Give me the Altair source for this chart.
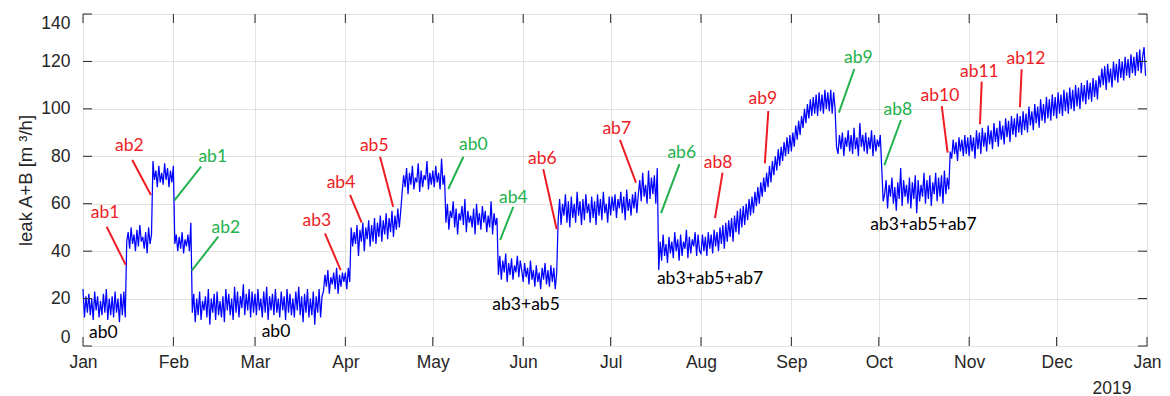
import altair as alt
import pandas as pd

# ---- leak A+B series, two readings per day (00:00 and 12:00), month by month ----
JAN = [24,12,21,14,22,13,20,11,23,15,21,12,19,13,22,14,24,11,20,13,21,12,23,14,20,10,22,13,23,12,
       44,48,41,50,43,47,40,49,42,51,44,46,41,48,39,50,43,47,
       78,70,74,67,76,69,73,68,77,70,75,67,74,69]
FEB = [76,43,47,40,46,41,48,39,45,42,47,40,52,
       14,22,10,20,13,23,11,19,15,21,12,24,9,20,14,22,11,23,13,19,12,21,10,24,15,22,13,20,11,25,14,23,
       12,21,16,26,13,22,15,24,12,23,14]
MAR = [22,13,24,15,20,12,23,14,25,11,21,15,22,13,24,14,20,12,23,15,21,11,24,14,22,13,20,12,23,15,25,13,
       21,10,22,14,24,12,20,13,23,9,21,14,24,12,21,
       23,30,25,32,22,29,26,31,24,33,22,30,25,31,27]
APR = [31,24,33,27,
       50,42,48,43,51,38,49,44,52,40,50,45,53,42,51,44,54,43,52,46,55,44,53,47,56,45,54,48,57,46,55,49,58,50,57,
       65,72,67,75,64,73,68,76,66,71,69,77,65,74,67,72,70,78,66,73,68]
MAY = [74,67,76,69,73,66,79,68,72,
       52,60,49,57,54,61,50,58,47,56,53,59,51,62,48,57,52,55,50,58,47,60,51,56,49,59,52,57,48,55,50,61,47,56,51,54,
       30,38,28,36,31,39,27,35,30,37,28,34,31,38,29,36,32]
JUN = [27,35,29,33,26,36,28,32,25,34,27,31,24,33,28,35,26,32,25,34,27,33,24,31,
       53,62,51,60,55,64,52,61,50,63,54,60,52,65,55,61,51,62,53,64,56,60,52,63,54,61,51,64,55,62,53,65,56,60,52,63]
JUL = [55,63,57,64,54,62,58,65,56,63,53,66,57,62,55,64,58,65,56,
       64,70,61,73,63,68,60,74,62,71,64,72,60,75,
       32,44,36,47,38,43,35,46,39,44,37,48,40,45,36,47,38,44,41,49,37,46,39,45,42,48,38,47,40]
AUG = [39,47,40,46,38,48,41,47,39,49,42,48,40,50,43,51,41,52,44,53,46,54,44,55,48,57,47,58,50,59,51,60,
       53,62,55,63,56,65,59,67,60,69,63,71,65,73,67,76,69,78,72,80,74,83,76,84,78,86,80,88,81,89]
SEP = [82,90,84,93,87,95,89,97,92,100,94,102,96,104,97,105,98,106,97,107,99,106,98,108,100,107,99,108,98,107,
       100,84,
       81,89,83,90,80,88,84,91,82,89,81,92,83,88,80,94,84,89,82,90,81,88,83,91,80,89,82,87]
OCT = [84,89,
       75,61,64,70,58,68,63,71,60,67,57,69,62,75,59,70,63,68,60,71,58,69,62,72,56,70,61,68,63,73,60,70,62,72,
       59,69,64,73,61,71,63,72,60,74,64,71,
       66,82,
       79,87,81,86,78,88,82,87,80,89,81,88]
NOV = [80,89,82,88,79,91,83,90,81,92,84,90,82,93,85,91,83,94,86,92,84,95,87,93,85,96,88,95,86,97,89,96,
       88,98,90,97,89,99,91,98,90,101,93,99,91,102,94,101,92,104,95,102,94,105,96,104,95,106,97,105]
DEC = [96,107,98,106,97,108,99,107,98,109,100,108,99,110,101,109,100,111,103,110,102,112,104,111,103,113,
       105,112,104,114,109,117,110,118,108,119,111,117,109,120,112,119,111,121,113,120,112,122,114,121,113,123,
       115,122,114,124,116,125,115,122,126,114]

# ---- annotation labels ----
ANN_LABEL = ["ab1", "ab2", "ab1", "ab2", "ab0", "ab0", "ab3", "ab4", "ab5", "ab0", "ab4", "ab3+ab5",
             "ab6", "ab7", "ab6", "ab8", "ab3+ab5+ab7", "ab9", "ab9", "ab8", "ab3+ab5+ab7", "ab10", "ab11", "ab12"]
ANN_KIND = ["on", "on", "off", "off", "base", "base", "on", "on", "on", "off", "off", "base",
            "on", "on", "off", "on", "base", "on", "off", "off", "base", "on", "on", "on"]
ANN_DAY = [7.55, 15.9, 44.5, 49.0, 7.0, 66.2, 80.2, 88.5, 99.9, 133.9, 147.6, 152.0,
           157.6, 183.1, 205.4, 217.9, 215.1, 233.2, 266.0, 279.5, 288.3, 294.0, 307.5, 323.5]
ANN_VAL = [56.1, 84.5, 79.6, 49.9, 5.6, 6.0, 52.7, 68.9, 84.5, 84.8, 62.3, 17.3,
           78.7, 91.5, 81.3, 77.0, 28.1, 104.0, 121.3, 99.5, 51.0, 105.5, 115.7, 120.9]

# ---- leader lines ----
LINE_KIND = ["on", "on", "off", "off", "on", "on", "on", "off", "off", "on", "on", "off",
             "on", "on", "off", "off", "on", "on", "on"]
LINE_DAY0 = [8.13, 16.9, 40.5, 46.4, 83.0, 91.6, 101.9, 130.5, 147.6, 157.9, 184.2, 204.6,
             219.4, 235.1, 264.6, 280.6, 294.6, 308.3, 322.0]
LINE_VAL0 = [50.3, 78.4, 75.6, 46.1, 47.5, 63.7, 79.8, 79.8, 58.7, 74.5, 86.9, 76.7,
             73.1, 99.1, 116.8, 95.3, 101.2, 111.5, 116.7]
LINE_DAY1 = [14.65, 23.3, 31.3, 37.3, 88.4, 95.6, 106.4, 125.3, 143.1, 162.5, 189.7, 198.3,
             216.8, 233.9, 259.3, 274.9, 296.6, 307.7, 321.4]
LINE_VAL1 = [34.2, 63.7, 61.3, 31.8, 32.0, 52.0, 58.7, 66.2, 44.7, 49.2, 68.9, 56.0,
             53.9, 77.0, 98.4, 76.3, 81.5, 93.5, 100.7]

Y_TICKS = [0, 20, 40, 60, 80, 100, 120, 140]
MONTH_STARTS = ["2019-%02d-01T00:00:00" % m for m in range(1, 13)] + ["2020-01-01T00:00:00"]

# ---------------------------------------------------------------
T0 = pd.Timestamp("2019-01-01")
FMT = "%Y-%m-%dT%H:%M:%S"


def day_to_t(d):
    return (T0 + pd.Timedelta(days=d)).strftime(FMT)


values = [v for m in (JAN, FEB, MAR, APR, MAY, JUN, JUL, AUG, SEP, OCT, NOV, DEC) for v in m]
assert len(values) == 730, len(values)
series = pd.DataFrame({
    "t": [(T0 + pd.Timedelta(hours=12 * i)).strftime(FMT) for i in range(len(values))],
    "leak": values,
})
ann = pd.DataFrame({"t": [day_to_t(d) for d in ANN_DAY], "v": ANN_VAL, "label": ANN_LABEL, "kind": ANN_KIND})
lines = pd.DataFrame({
    "t0": [day_to_t(d) for d in LINE_DAY0], "v0": LINE_VAL0,
    "t1": [day_to_t(d) for d in LINE_DAY1], "v1": LINE_VAL1,
    "kind": LINE_KIND,
})
xt = pd.DataFrame({"t": MONTH_STARTS})
yt = pd.DataFrame({"v": Y_TICKS})

W, H = 1064, 332
AX = "#262626"
GRID = "#e2e2e2"
TICKFONT = "Liberation Sans"

x_scale = alt.Scale(domain=[alt.DateTime(year=2019, month=1, date=1), alt.DateTime(year=2020, month=1, date=1)])
y_scale = alt.Scale(domain=[0, 140], nice=False)

x_axis = alt.Axis(
    values=[alt.DateTime(year=2019, month=m, date=1) for m in range(1, 13)] + [alt.DateTime(year=2020, month=1, date=1)],
    format="%b", grid=True, gridColor=GRID, ticks=False, domain=False,
    labelFont=TICKFONT, labelFontSize=17.5, labelColor=AX, labelPadding=7,
    labelFlush=False, labelOverlap=False,
    title="2019", titleFont=TICKFONT, titleFontSize=17.5, titleFontWeight="normal", titleColor=AX,
    titleAnchor="end", titleAlign="right", titleX=1048, titleY=47, titleBaseline="alphabetic",
)
y_axis = alt.Axis(
    values=Y_TICKS, grid=True, gridColor=GRID, ticks=False, domain=False,
    labelFont=TICKFONT, labelFontSize=17.5, labelColor=AX, labelPadding=13,
    labelFlush=True, labelOverlap=False,
    title="leak A+B [m ³/h]", titleFont=TICKFONT, titleFontSize=18.5, titleFontWeight="normal",
    titleColor=AX, titleAngle=270, titleX=-58, titleY=166, titleBaseline="middle", titleAlign="center",
)

X = alt.X("t:T", scale=x_scale, axis=x_axis)
Y = alt.Y("leak:Q", scale=y_scale, axis=y_axis)

kind_color = alt.Color("kind:N", legend=None,
                       scale=alt.Scale(domain=["on", "off", "base"], range=["#ee1c24", "#22b14c", "#000000"]))

line = alt.Chart(series).mark_line(color="#0000ff", strokeWidth=1.25, interpolate="linear").encode(x=X, y=Y)

leaders = alt.Chart(lines).mark_rule(strokeWidth=2).encode(
    x=alt.X("t0:T", scale=x_scale, axis=x_axis), x2="t1:T",
    y=alt.Y("v0:Q", scale=y_scale, axis=y_axis), y2="v1:Q",
    color=kind_color,
)

labels = alt.Chart(ann).mark_text(font="Lato", fontSize=17.5, align="center", baseline="middle").encode(
    x=alt.X("t:T", scale=x_scale, axis=x_axis),
    y=alt.Y("v:Q", scale=y_scale, axis=y_axis),
    text="label:N", color=kind_color,
)

tick_b = alt.Chart(xt).mark_rule(color=AX, strokeWidth=1).encode(
    x=alt.X("t:T", scale=x_scale, axis=x_axis), y=alt.value(H), y2=alt.value(H - 9))
tick_t = alt.Chart(xt).mark_rule(color=AX, strokeWidth=1).encode(
    x=alt.X("t:T", scale=x_scale, axis=x_axis), y=alt.value(0), y2=alt.value(9))
tick_l = alt.Chart(yt).mark_rule(color=AX, strokeWidth=1).encode(
    y=alt.Y("v:Q", scale=y_scale, axis=y_axis), x=alt.value(0), x2=alt.value(9))
tick_r = alt.Chart(yt).mark_rule(color=AX, strokeWidth=1).encode(
    y=alt.Y("v:Q", scale=y_scale, axis=y_axis), x=alt.value(W), x2=alt.value(W - 9))

chart = alt.layer(line, tick_b, tick_t, tick_l, tick_r, leaders, labels).properties(
    width=W, height=H,
    padding={"left": 75, "top": 6, "right": 15, "bottom": 50},
    autosize=alt.AutoSizeParams(type="none"),
    background="white",
).configure_view(stroke=AX, strokeWidth=1)

chart.save("out.html", embed_options={"renderer": "svg", "actions": False})
